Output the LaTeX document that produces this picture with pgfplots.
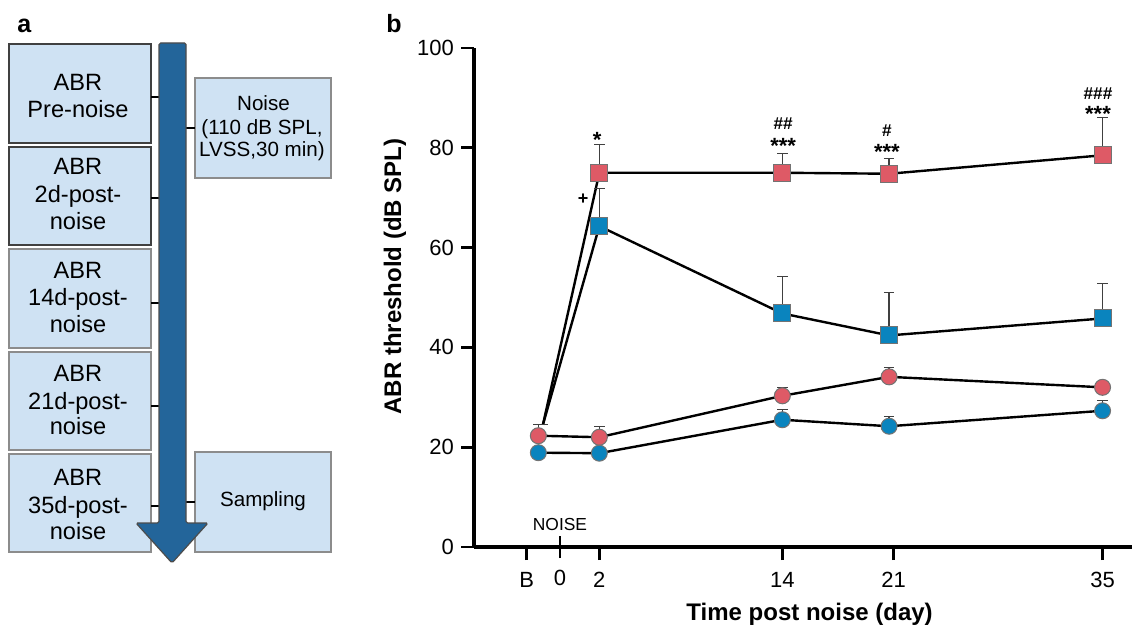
\documentclass[border=0pt]{standalone}
\usepackage{fontspec}
\setmainfont{Liberation Sans}
\usepackage{pgfplots}
\pgfplotsset{compat=1.18}
\usepackage{pgfplotstable}

\definecolor{myred}{HTML}{DE5A66}
\definecolor{myblue}{HTML}{0A84BE}
\definecolor{boxblue}{HTML}{CFE2F3}
\definecolor{arrowblue}{HTML}{23659A}

% day, threshold, SEM (upper only)
\pgfplotstableread{
x y e
-1.7 24.5 0
2 75.0 5.6
14 75.0 3.9
21 74.8 3.0
35 78.5 7.5
}\redsq
\pgfplotstableread{
x y e
-1.7 24.5 0
2 64.3 7.6
14 46.8 7.4
21 42.4 8.6
35 45.8 7.0
}\bluesq
\pgfplotstableread{
x y e
-2 22.3 2.2
2 22.0 2.1
14 30.3 1.7
21 34.1 1.8
35 32.0 1.1
}\redci
\pgfplotstableread{
x y e
-2 18.9 0
2 18.8 0
14 25.5 2.0
21 24.2 1.9
35 27.3 2.0
}\blueci

\newcommand{\bx}{\fontsize{11.8}{13.75}\selectfont}
\newcommand{\sx}{\fontsize{10.3}{11.5}\selectfont}

\begin{document}
\begin{tikzpicture}
% ---- panel a (units: reference pixels, y down)
\begin{scope}[x=0.5pt,y=-0.5pt]
\node[anchor=base west,inner sep=0,font=\bfseries\fontsize{12.5}{14}\selectfont] at (17,33) {a};
\foreach \t/\b/\c in {44/143/black!75,147/245/black!75,249/348/black!45,352/450/black!45,454/552/black!45}
  \filldraw[fill=boxblue,draw=\c,line width=0.6pt] (9,\t) rectangle (151,\b);
\filldraw[fill=boxblue,draw=black!45,line width=0.6pt] (195,78) rectangle (331,178);
\filldraw[fill=boxblue,draw=black!45,line width=0.6pt] (195,452) rectangle (331,552);
\foreach \y in {97,198,303,406,506}
  \draw[line width=1pt] (151,\y) -- (160,\y);
\draw[line width=1pt] (185,128) -- (195,128);
\draw[line width=1pt] (185,502) -- (195,502);
\filldraw[fill=arrowblue,draw=black!70,line width=0.6pt,rounded corners=0.8pt]
  (159,43) -- (186,43) -- (186,523) -- (208,523) -- (172,563) -- (136,523) -- (159,523) -- cycle;
\begin{scope}[every node/.style={anchor=base,inner sep=0,font=\bx}]
\node at (78,90.7) {ABR}; \node at (78,118) {Pre-noise};
\node at (78,175) {ABR}; \node at (78,203) {2d-post-}; \node at (78,230) {noise};
\node at (78,278.3) {ABR}; \node at (78,306) {14d-post-}; \node at (78,332.3) {noise};
\node at (78,381) {ABR}; \node at (78,409.3) {21d-post-}; \node at (78,435) {noise};
\node at (78,485) {ABR}; \node at (78,513.3) {35d-post-}; \node at (78,539.3) {noise};
\end{scope}
\begin{scope}[every node/.style={anchor=base,inner sep=0,font=\sx}]
\node at (263.5,110.7) {Noise};
\node at (262,134.3) {(110 dB SPL,};
\node at (262,156.7) {LVSS,30 min)};
\node at (263,506.7) {Sampling};
\end{scope}
\node[anchor=base west,inner sep=0,font=\bfseries\fontsize{12.5}{14}\selectfont] at (386,33) {b};
\end{scope}

% ---- panel b
\begin{axis}[
  at={(237pt,-273.5pt)}, anchor=south west,
  scale only axis, width=329pt, height=249.5pt,
  xmin=-6.22, xmax=36.93, ymin=0, ymax=100,
  clip=false,
  axis x line*=bottom, axis y line*=left,
  axis line style={-,line width=1.6pt},
  tick align=outside, major tick length=6.5pt,
  tick style={line width=1.4pt,black},
  ytick={0,20,40,60,80,100},
  xtick={-2.76,2,14,21.3,35},
  xticklabels={B,2,14,21,35},
  extra x ticks={-0.58}, extra x tick labels={0},
  extra x tick style={tick align=center,major tick length=11pt},
  /pgf/number format/assume math mode=true,
  ticklabel style={font=\fontsize{11}{13}\selectfont},
  xticklabel style={yshift=-2.5pt},
  ylabel={\textbf{ABR threshold (dB SPL)}},
  ylabel style={at={(axis description cs:-0.120,0.542)},anchor=center,font=\fontsize{12}{14}\selectfont},
  xlabel={\textbf{Time post noise (day)}},
  xlabel style={at={(axis description cs:0.51,-0.1463)},anchor=base,inner sep=0,font=\fontsize{12}{14}\selectfont},
  every axis plot/.append style={line width=1.2pt,black},
  error bars/error bar style={line width=0.6pt,black!75},
  error bars/error mark options={rotate=90,mark size=2.6pt,line width=0.6pt,black!75},
]
\addplot[mark=square*,mark size=4.25pt,mark indices={2,3,4,5},
  mark options={fill=myred,draw=black!55,line width=0.5pt},
  error bars/.cd,y dir=plus,y explicit] table[x=x,y=y,y error=e] {\redsq};
\addplot[mark=square*,mark size=4.25pt,mark indices={2,3,4,5},
  mark options={fill=myblue,draw=black!55,line width=0.5pt},
  error bars/.cd,y dir=plus,y explicit] table[x=x,y=y,y error=e] {\bluesq};
\addplot[mark=*,mark size=4pt,
  mark options={fill=myred,draw=black!55,line width=0.5pt},
  error bars/.cd,y dir=plus,y explicit] table[x=x,y=y,y error=e] {\redci};
\addplot[mark=*,mark size=4pt,
  mark options={fill=myblue,draw=black!55,line width=0.5pt},
  error bars/.cd,y dir=plus,y explicit] table[x=x,y=y,y error=e] {\blueci};

\begin{scope}[every node/.style={anchor=base,inner sep=0}]
\node[font=\bfseries\fontsize{11}{12}\selectfont] at (axis cs:1.85,80.04) {*};
\node[font=\bfseries\fontsize{9}{10}\selectfont] at (axis cs:0.93,68.6) {+};
\node[font=\bfseries\fontsize{8.6}{9}\selectfont] at (axis cs:14.05,83.6) {\#\#};
\node[font=\bfseries\fontsize{11}{12}\selectfont] at (axis cs:14.05,78.8) {***};
\node[font=\bfseries\fontsize{8.6}{9}\selectfont] at (axis cs:20.86,82.2) {\#};
\node[font=\bfseries\fontsize{11}{12}\selectfont] at (axis cs:20.86,77.6) {***};
\node[font=\bfseries\fontsize{8.6}{9}\selectfont] at (axis cs:34.7,89.7) {\#\#\#};
\node[font=\bfseries\fontsize{11}{12}\selectfont] at (axis cs:34.7,85.25) {***};
\node[font=\fontsize{8.7}{10}\selectfont] at (axis cs:-0.58,3.4) {NOISE};
\end{scope}
\end{axis}

\pgfresetboundingbox
\path[use as bounding box] (0pt,0pt) rectangle (566pt,-313pt);
\end{tikzpicture}
\end{document}
